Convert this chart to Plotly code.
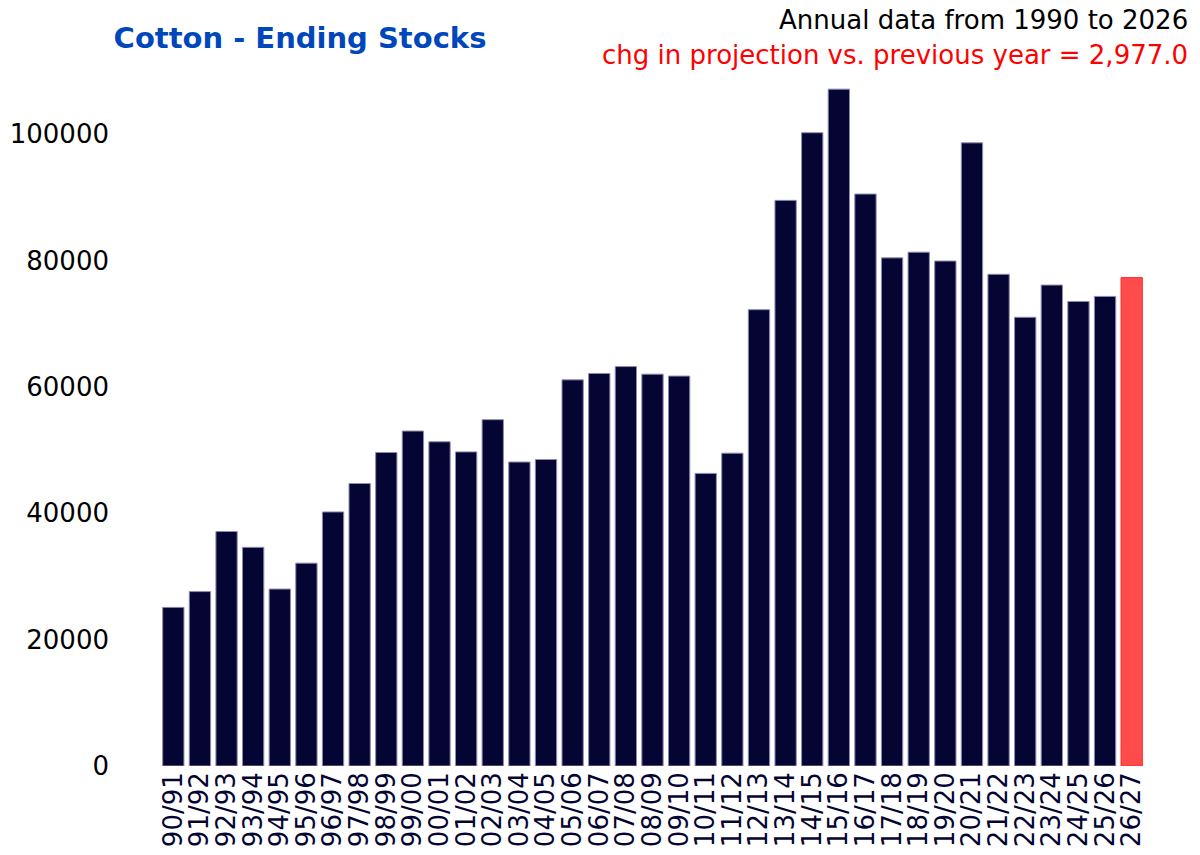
import plotly.graph_objects as go

seasons = ["90/91", "91/92", "92/93", "93/94", "94/95", "95/96", "96/97", "97/98",
           "98/99", "99/00", "00/01", "01/02", "02/03", "03/04", "04/05", "05/06",
           "06/07", "07/08", "08/09", "09/10", "10/11", "11/12", "12/13", "13/14",
           "14/15", "15/16", "16/17", "17/18", "18/19", "19/20", "20/21", "21/22",
           "22/23", "23/24", "24/25", "25/26", "26/27"]
ending_stocks = [25100, 27600, 37100, 34600, 28000, 32100, 40200, 44700,
                 49600, 53000, 51300, 49700, 54800, 48100, 48500, 61100,
                 62100, 63200, 62000, 61700, 46300, 49500, 72200, 89500,
                 100200, 107100, 90500, 80400, 81300, 79900, 98600, 77800,
                 71000, 76100, 73500, 74300, 77277]
y_ticks = [0, 20000, 40000, 60000, 80000, 100000]

change = ending_stocks[-1] - ending_stocks[-2]

bar_colors = ["#050533"] * (len(seasons) - 1) + ["#ff4b4b"]
line_colors = ["#8c8cb0"] * (len(seasons) - 1) + ["#ff2a2a"]

fig = go.Figure()
fig.add_trace(go.Bar(
    x=seasons, y=ending_stocks,
    marker=dict(color=bar_colors, line=dict(color=line_colors, width=1)),
    showlegend=False,
))

fig.update_layout(
    width=1200, height=855,
    margin=dict(l=160, r=55, t=80, b=89),
    plot_bgcolor="white", paper_bgcolor="white",
    font=dict(family="DejaVu Sans", size=26, color="black"),
    bargap=0.2,
    title=dict(text="<b>Cotton - Ending Stocks</b>", xref="container", yref="container",
               x=0.25, y=1 - 38 / 855, xanchor="center", yanchor="middle",
               font=dict(family="DejaVu Sans", size=29, color="#0047bb")),
    xaxis=dict(tickangle=-90, tickmode="linear", dtick=1, showgrid=False,
               showline=False, zeroline=False, automargin=False,
               tickfont=dict(color="#050533", size=26)),
    yaxis=dict(range=[0, 108544], tickvals=y_ticks, tickformat="d",
               showgrid=False, showline=False, zeroline=False, automargin=False,
               ticklabelstandoff=50, tickfont=dict(color="black", size=26)),
)

fig.add_annotation(text="Annual data from 1990 to 2026", xref="paper", yref="paper",
                   x=1.0457, y=1.0875, xanchor="right", yanchor="middle", showarrow=False,
                   font=dict(size=26, color="black"))
fig.add_annotation(text=f"chg in projection vs. previous year = {change:,.1f}",
                   xref="paper", yref="paper",
                   x=1.0457, y=1.0364, xanchor="right", yanchor="middle", showarrow=False,
                   font=dict(size=26, color="red"))

fig.write_html("out.html", config={"displayModeBar": False},
               post_script="document.body.style.margin='0';")
